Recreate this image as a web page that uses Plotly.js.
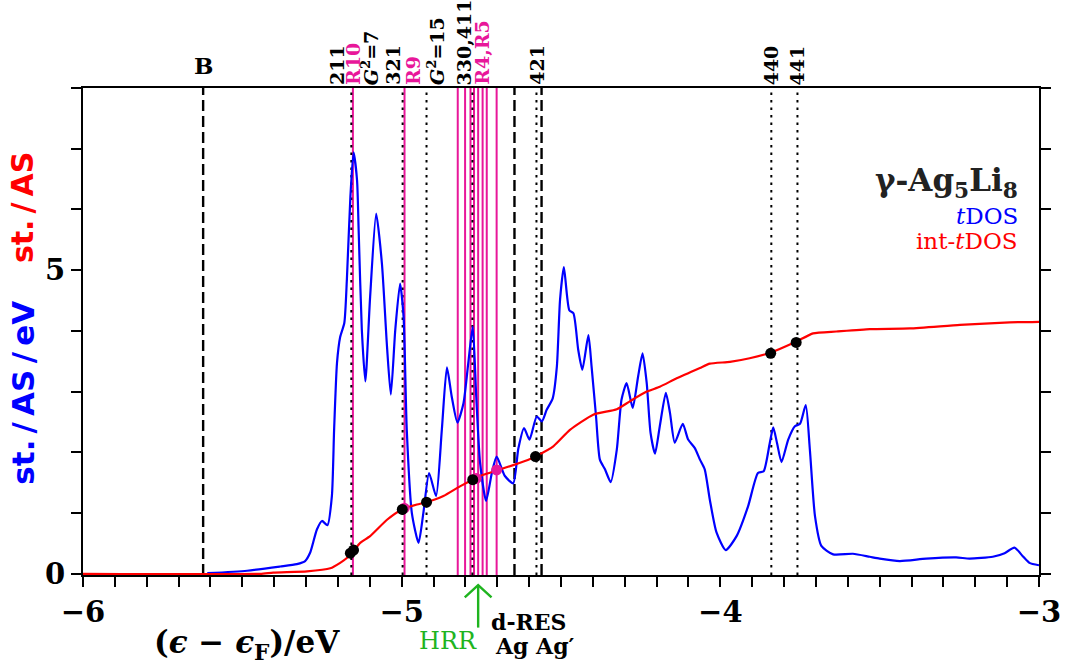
<!DOCTYPE html>
<html>
<head>
<meta charset="utf-8">
<script src="https://cdn.plot.ly/plotly-3.0.1.min.js"></script>
<style>
  html, body { margin: 0; padding: 0; background: #ffffff; }
  #chart { width: 1065px; height: 667px; }
</style>
</head>
<body>
<div id="chart"></div>
<script>
// Total density of states (tDOS) of gamma-Ag5Li8, states per atom-site per eV
const tdosE = [-5.610, -5.485, -5.381, -5.329, -5.303, -5.287, -5.266, -5.250, -5.233, -5.219,
  -5.212, -5.203, -5.193, -5.180, -5.172, -5.161, -5.151, -5.140, -5.135, -5.125,
  -5.114, -5.099, -5.080, -5.062, -5.046, -5.034, -5.020, -5.005, -4.994, -4.984,
  -4.968, -4.947, -4.932, -4.914, -4.892, -4.874, -4.858, -4.843, -4.825, -4.806,
  -4.791, -4.777, -4.766, -4.754, -4.735, -4.717, -4.702, -4.676, -4.650, -4.634,
  -4.616, -4.599, -4.576, -4.560, -4.545, -4.526, -4.513, -4.503, -4.491, -4.474,
  -4.461, -4.446, -4.433, -4.414, -4.404, -4.390, -4.378, -4.362, -4.344, -4.325,
  -4.310, -4.294, -4.275, -4.258, -4.244, -4.231, -4.219, -4.205, -4.190, -4.171,
  -4.158, -4.143, -4.118, -4.101, -4.080, -4.064, -4.049, -4.033, -4.012, -3.983,
  -3.949, -3.913, -3.882, -3.864, -3.845, -3.834, -3.822, -3.808, -3.787, -3.766,
  -3.750, -3.732, -3.719, -3.703, -3.683, -3.646, -3.584, -3.531, -3.500, -3.437,
  -3.354, -3.260, -3.218, -3.145, -3.108, -3.077, -3.051, -3.030, -3.000];
const tdosN = [0.01, 0.05, 0.12, 0.16, 0.21, 0.35, 0.73, 0.87, 0.80, 1.28,
  2.37, 3.47, 3.90, 4.13, 4.84, 6.20, 6.94, 6.48, 5.66, 4.02,
  3.17, 4.56, 5.93, 5.11, 3.74, 2.95, 4.02, 4.78, 4.23, 2.37,
  1.00, 0.51, 1.00, 1.66, 1.28, 2.37, 3.40, 2.92, 2.49, 2.81,
  3.47, 4.07, 2.92, 1.83, 1.20, 1.66, 1.93, 1.61, 1.49, 2.06,
  2.40, 2.21, 2.59, 2.51, 2.70, 2.89, 3.41, 4.51, 5.05, 4.34,
  4.29, 3.69, 3.36, 3.93, 3.41, 2.59, 1.88, 1.72, 1.51, 2.04,
  2.87, 3.14, 2.73, 3.25, 3.63, 3.14, 2.32, 1.98, 2.43, 2.98,
  2.65, 2.16, 2.47, 2.21, 2.07, 1.88, 1.72, 1.22, 0.68, 0.39,
  0.62, 1.11, 1.66, 1.69, 2.15, 2.41, 2.15, 1.84, 2.21, 2.43,
  2.47, 2.78, 2.04, 0.95, 0.46, 0.32, 0.33, 0.28, 0.25, 0.21,
  0.25, 0.27, 0.25, 0.28, 0.34, 0.43, 0.29, 0.18, 0.14];

// Integrated tDOS, states per atom-site
const intE = [-6.000, -5.444, -5.403, -5.297, -5.224, -5.193, -5.172, -5.151, -5.130, -5.099,
  -5.046, -4.999, -4.952, -4.921, -4.869, -4.817, -4.777, -4.744, -4.702, -4.650,
  -4.597, -4.581, -4.524, -4.472, -4.399, -4.325, -4.284, -4.231, -4.190, -4.137,
  -4.064, -4.033, -3.970, -3.908, -3.843, -3.763, -3.709, -3.636, -3.531, -3.405,
  -3.248, -3.092, -3.000];
const intN = [0.00, 0.00, 0.02, 0.04, 0.09, 0.18, 0.26, 0.38, 0.51, 0.62,
  0.89, 1.06, 1.14, 1.18, 1.28, 1.44, 1.55, 1.63, 1.70, 1.79,
  1.89, 1.93, 2.10, 2.37, 2.62, 2.71, 2.84, 3.00, 3.08, 3.22,
  3.39, 3.46, 3.49, 3.55, 3.64, 3.82, 3.96, 3.99, 4.03, 4.04,
  4.10, 4.14, 4.15];

// Electron counts at the Brillouin-zone planes (black) and resonances (pink)
const planeDotE = [-5.161, -5.151, -4.998, -4.922, -4.777, -4.580, -3.842, -3.762];
const planeDotN = [0.34, 0.39, 1.06, 1.18, 1.55, 1.93, 3.63, 3.81];
const resDotE = [-4.992, -4.766, -4.702];
const resDotN = [1.08, 1.57, 1.71];

// Reference energies drawn as vertical lines
const dashedE = [-5.623, -4.646, -4.561];
const dottedE = [-5.158, -4.997, -4.922, -4.778, -4.577, -3.840, -3.758];
const pinkE = [-5.153, -4.991, -4.824, -4.801, -4.784, -4.773, -4.760, -4.746, -4.733, -4.702];

// Labels above the frame
const topLabelE = [-5.203, -5.153, -5.100, -5.028, -4.966, -4.892, -4.803, -4.750, -4.576, -3.840, -3.758];
const topLabelText = ['211', 'R10', '<i>G</i><sup>2</sup>=7', '321', 'R9', '<i>G</i><sup>2</sup>=15',
  '330,411', 'R4,R5', '421', '440', '441'];
const topLabelPink = [false, true, false, false, true, false, false, true, false, false, false];

const bandBottomE = -5.623;   // B
const hrrE = -4.760;          // HRR arrow

const xTickVals = [-6, -5, -4, -3];
const yTickVals = [0, 1, 2, 3, 4, 5, 6, 7, 8];
const yTickText = ['0', '', '', '', '', '5', '', '', ''];

const BLUE = '#0000ff', RED = '#ff0000', PINK = '#e8179a', GREEN = '#1fb41f';
const SERIF = 'DejaVu Serif, Liberation Serif, serif';
const SANS = 'DejaVu Sans, Liberation Sans, sans-serif';

const traces = [
  { x: tdosE, y: tdosN, type: 'scatter', mode: 'lines', hoverinfo: 'skip',
    line: { color: BLUE, width: 2.2, shape: 'spline', smoothing: 0.6 } },
  { x: intE, y: intN, type: 'scatter', mode: 'lines', hoverinfo: 'skip',
    line: { color: RED, width: 2.2, shape: 'spline', smoothing: 0.5 } },
  { x: resDotE, y: resDotN, type: 'scatter', mode: 'markers', hoverinfo: 'skip', cliponaxis: false,
    marker: { color: PINK, size: 11 } },
  { x: planeDotE, y: planeDotN, type: 'scatter', mode: 'markers', hoverinfo: 'skip', cliponaxis: false,
    marker: { color: '#000000', size: 11 } }
];

const shapes = [];
function vline(e, color, width, dash) {
  shapes.push({ type: 'line', xref: 'x', yref: 'paper', x0: e, x1: e, y0: 0, y1: 1,
    layer: 'below', line: { color: color, width: width, dash: dash } });
}
pinkE.forEach(e => vline(e, PINK, 2, 'solid'));
dottedE.forEach(e => vline(e, '#000000', 2, '2.5px,5px'));
dashedE.forEach(e => vline(e, '#000000', 2.4, '11px,5px'));

// green arrow under the axis marking HRR
const arrowTip = -0.021, arrowTail = -0.108, headY = -0.046, headHalf = 0.042;
shapes.push({ type: 'line', xref: 'x', yref: 'paper', x0: hrrE, x1: hrrE, y0: arrowTail, y1: arrowTip,
  line: { color: GREEN, width: 2.4 } });
shapes.push({ type: 'path', xref: 'x', yref: 'paper',
  path: `M ${hrrE - headHalf} ${headY} L ${hrrE} ${arrowTip} L ${hrrE + headHalf} ${headY}`,
  line: { color: GREEN, width: 2.4 } });

const annotations = [];
topLabelE.forEach((e, i) => {
  annotations.push({ x: e, xref: 'x', y: 1, yref: 'paper', xanchor: 'center', yanchor: 'bottom',
    yshift: 1, textangle: -90, showarrow: false, text: topLabelText[i],
    font: { family: SERIF, size: 19, weight: 'bold', color: topLabelPink[i] ? PINK : '#000000' } });
});
annotations.push({ x: bandBottomE, xref: 'x', y: 1.047, yref: 'paper', xanchor: 'center', yanchor: 'middle',
  showarrow: false, text: 'B', font: { family: SERIF, size: 23, weight: 'bold', color: '#000000' } });

// compound name and curve labels
annotations.push({ x: 0.98, xref: 'paper', y: 0.805, yref: 'paper', xanchor: 'right', yanchor: 'middle',
  showarrow: false, text: 'γ-Ag<sub>5</sub>Li<sub>8</sub>',
  font: { family: SERIF, size: 31, weight: 'bold', color: '#222222' } });
annotations.push({ x: 0.98, xref: 'paper', y: 0.737, yref: 'paper', xanchor: 'right', yanchor: 'middle',
  showarrow: false, text: '<i>t</i>DOS', font: { family: SERIF, size: 23, color: BLUE } });
annotations.push({ x: 0.98, xref: 'paper', y: 0.686, yref: 'paper', xanchor: 'right', yanchor: 'middle',
  showarrow: false, text: 'int-<i>t</i>DOS', font: { family: SERIF, size: 23, color: RED } });

// y-axis units, one per curve
annotations.push({ x: -0.063, xref: 'paper', y: 0.755, yref: 'paper', xanchor: 'center', yanchor: 'middle',
  textangle: -90, showarrow: false, text: 'st.\u2009/\u2009AS',
  font: { family: SANS, size: 30, weight: 'bold', color: RED } });
annotations.push({ x: -0.063, xref: 'paper', y: 0.374, yref: 'paper', xanchor: 'center', yanchor: 'middle',
  textangle: -90, showarrow: false, text: 'st.\u2009/\u2009AS\u2009/\u2009eV',
  font: { family: SANS, size: 31, weight: 'bold', color: BLUE } });

// x-axis title
annotations.push({ x: 0.172, xref: 'paper', y: -0.143, yref: 'paper', xanchor: 'center', yanchor: 'middle',
  showarrow: false, text: '(<i>ϵ</i> − <i>ϵ</i><sub>F</sub>)/eV',
  font: { family: SERIF, size: 31, weight: 'bold', color: '#000000' } });

// labels below the axis
annotations.push({ x: 0.3818, xref: 'paper', y: -0.136, yref: 'paper', xanchor: 'center', yanchor: 'middle',
  showarrow: false, text: 'HRR', font: { family: SERIF, size: 24, color: GREEN } });
annotations.push({ x: 0.466, xref: 'paper', y: -0.097, yref: 'paper', xanchor: 'center', yanchor: 'middle',
  showarrow: false, text: 'd-RES', font: { family: SERIF, size: 22, weight: 'bold', color: '#000000' } });
annotations.push({ x: 0.473, xref: 'paper', y: -0.146, yref: 'paper', xanchor: 'center', yanchor: 'middle',
  showarrow: false, text: 'Ag Ag′', font: { family: SERIF, size: 22, weight: 'bold', color: '#000000' } });

const layout = {
  width: 1065, height: 667,
  margin: { l: 83, r: 26, t: 88, b: 92 },
  paper_bgcolor: '#ffffff', plot_bgcolor: '#ffffff',
  showlegend: false,
  xaxis: {
    range: [-6, -3], tickmode: 'array', tickvals: xTickVals,
    ticks: 'outside', ticklen: 10, tickwidth: 2, tickcolor: '#000000',
    minor: { dtick: 0.1, ticks: 'outside', ticklen: 10, tickwidth: 2, tickcolor: '#000000' },
    showline: true, linewidth: 2, linecolor: '#000000', mirror: true,
    showgrid: false, zeroline: false, layer: 'below traces',
    tickfont: { family: SERIF, size: 29, weight: 'bold', color: '#000000' }
  },
  yaxis: {
    range: [-0.02, 8], tickmode: 'array', tickvals: yTickVals, ticktext: yTickText,
    ticks: 'outside', ticklen: 10, tickwidth: 2, tickcolor: '#000000',
    showline: true, linewidth: 2, linecolor: '#000000', mirror: 'ticks',
    showgrid: false, zeroline: false, layer: 'below traces',
    tickfont: { family: SERIF, size: 29, weight: 'bold', color: '#000000' }
  },
  shapes: shapes,
  annotations: annotations
};

Plotly.newPlot('chart', traces, layout, { displayModeBar: false, staticPlot: true });
</script>
</body>
</html>
